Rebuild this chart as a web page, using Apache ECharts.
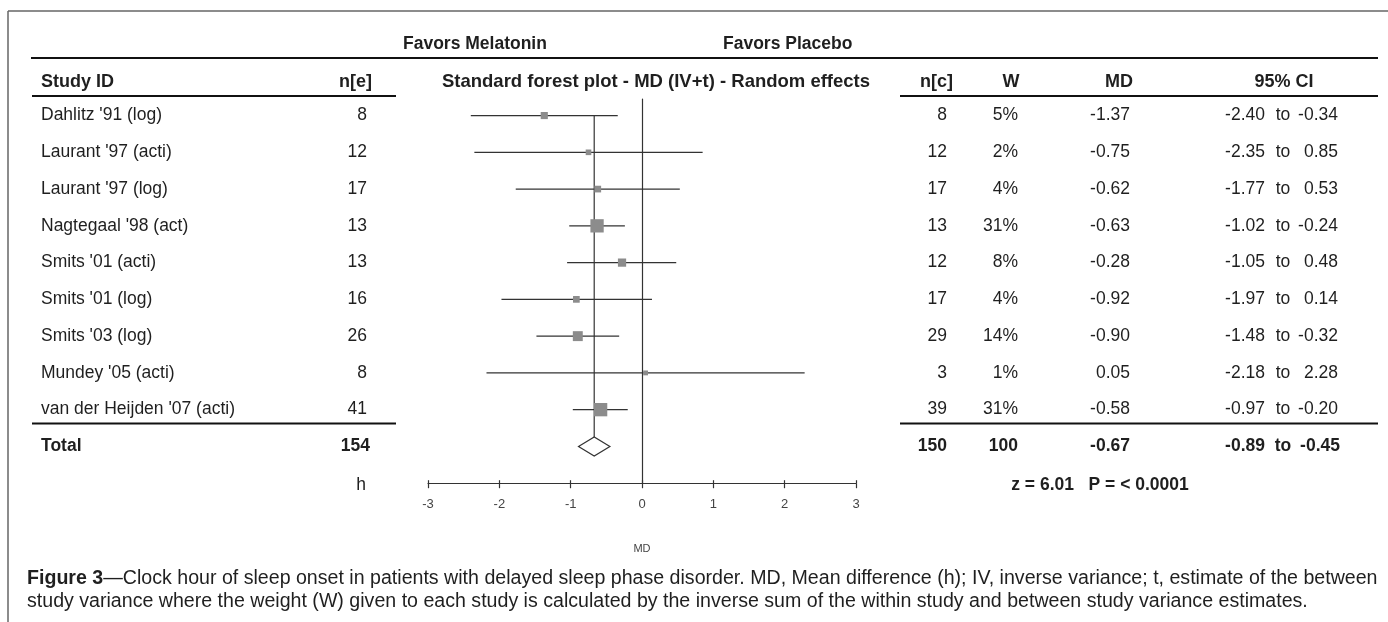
<!DOCTYPE html>
<html>
<head>
<meta charset="utf-8">
<script src="https://cdn.jsdelivr.net/npm/echarts@6/dist/echarts.min.js"></script>
<style>
  html, body { margin: 0; padding: 0; background: #fff; }
  #chart { width: 1388px; height: 622px; }
</style>
</head>
<body>
<div id="chart"></div>
<script>
// Melatonin vs placebo, clock hour of sleep onset — forest plot table.
const studies = [
  "Dahlitz '91 (log)", "Laurant '97 (acti)", "Laurant '97 (log)", "Nagtegaal '98 (act)",
  "Smits '01 (acti)", "Smits '01 (log)", "Smits '03 (log)", "Mundey '05 (acti)",
  "van der Heijden '07 (acti)",
];
const nE = [8, 12, 17, 13, 13, 16, 26, 8, 41];
const nC = [8, 12, 17, 13, 12, 17, 29, 3, 39];
const weight = [5, 2, 4, 31, 8, 4, 14, 1, 31];
const md = [-1.37, -0.75, -0.62, -0.63, -0.28, -0.92, -0.90, 0.05, -0.58];
const ciLow = [-2.40, -2.35, -1.77, -1.02, -1.05, -1.97, -1.48, -2.18, -0.97];
const ciHigh = [-0.34, 0.85, 0.53, -0.24, 0.48, 0.14, -0.32, 2.28, -0.20];

const totalNE = 154;
const totalNC = 150;
const totalW = 100;
const totalMD = -0.67;
const totalLow = -0.89;
const totalHigh = -0.45;
const testText = 'z = 6.01   P = < 0.0001';

const captionLines = [
  '{b|Figure 3}—Clock hour of sleep onset in patients with delayed sleep phase disorder. MD, Mean difference (h); IV, inverse variance; t, estimate of the between',
  'study variance where the weight (W) given to each study is calculated by the inverse sum of the within study and between study variance estimates.',
];

const FONT = '"Liberation Sans", Arial, Helvetica, sans-serif';
const INK = '#1f1f1f';
const LINE = '#333';
const BOX = '#8c8c8c';
const TOTAL_ROW = studies.length;           // row index of the pooled diamond
const fmt = v => v.toFixed(2);
const pct = v => v + '%';

const chart = echarts.init(document.getElementById('chart'), null, { renderer: 'canvas' });

chart.setOption({
  animation: false,
  grid: { left: 428, width: 428, top: 99, height: 384.2 },
  xAxis: [{
    type: 'value', min: -3, max: 3, interval: 1,
    axisLine: { show: true, onZero: false, lineStyle: { color: LINE, width: 1.2 } },
    axisTick: { show: true, length: 5, lineStyle: { color: LINE, width: 1.2 } },
    axisLabel: { color: '#444', fontSize: 13, fontFamily: FONT, margin: 15 },
    splitLine: { show: false },
    name: 'MD', nameLocation: 'middle', nameGap: 60,
    nameTextStyle: { color: '#444', fontSize: 11, fontFamily: FONT },
  }, {
    // second copy only for the half of each tick that pokes above the line
    type: 'value', min: -3, max: 3, interval: 1, position: 'bottom',
    axisLine: { show: false, onZero: false },
    axisTick: { show: true, inside: true, length: 3, lineStyle: { color: LINE, width: 1.2 } },
    axisLabel: { show: false },
    splitLine: { show: false },
  }],
  yAxis: {
    type: 'value', min: -0.45, max: 10, inverse: true,
    axisLine: { show: true, onZero: true, lineStyle: { color: LINE, width: 1.2 } },
    axisTick: { show: false }, axisLabel: { show: false }, splitLine: { show: false },
  },
  series: [
    {
      // pooled estimate reference line, from first study down to the diamond
      type: 'custom', z: 2,
      data: [[totalMD, 0, TOTAL_ROW]],
      renderItem: (params, api) => {
        const a = api.coord([api.value(0), api.value(1)]);
        const b = api.coord([api.value(0), api.value(2)]);
        return { type: 'line', shape: { x1: a[0], y1: a[1], x2: b[0], y2: b[1] - 9.5 },
          style: { stroke: LINE, lineWidth: 1.2 } };
      },
    },
    {
      type: 'custom', z: 3,
      encode: { x: [0, 1, 2], y: 4 },
      data: md.map((m, i) => [ciLow[i], ciHigh[i], m, weight[i], i]),
      renderItem: (params, api) => {
        const row = api.value(4);
        const lo = api.coord([api.value(0), row]);
        const hi = api.coord([api.value(1), row]);
        const c = api.coord([api.value(2), row]);
        const s = 3 + 1.85 * Math.sqrt(api.value(3));
        return { type: 'group', children: [
          { type: 'line', shape: { x1: lo[0], y1: lo[1], x2: hi[0], y2: hi[1] },
            style: { stroke: LINE, lineWidth: 1.2 } },
          { type: 'rect', shape: { x: c[0] - s / 2, y: c[1] - s / 2, width: s, height: s },
            style: { fill: BOX } },
        ] };
      },
    },
    {
      type: 'custom', z: 3,
      data: [[totalLow, totalMD, totalHigh, TOTAL_ROW]],
      renderItem: (params, api) => {
        const row = api.value(3);
        const l = api.coord([api.value(0), row]);
        const m = api.coord([api.value(1), row]);
        const r = api.coord([api.value(2), row]);
        return { type: 'polygon',
          shape: { points: [[l[0], l[1]], [m[0], m[1] - 9.5], [r[0], r[1]], [m[0], m[1] + 9.5]] },
          style: { fill: '#fff', stroke: LINE, lineWidth: 1.2 } };
      },
    },
  ],
});

// ---- table text, rows placed through the y scale ----
const rowY = i => chart.convertToPixel({ yAxisIndex: 0 }, i);

function txt(x, y, text, o = {}) {
  return {
    type: 'text', x, y, silent: true,
    style: {
      text, fill: o.color || INK, fontFamily: FONT,
      fontSize: o.size || 17.5, fontWeight: o.bold ? 'bold' : 'normal',
      align: o.align || 'left', verticalAlign: 'middle', rich: o.rich,
    },
  };
}
function hline(x1, x2, y, w = 2, color = '#111') {
  return { type: 'line', silent: true, shape: { x1, y1: y, x2, y2: y }, style: { stroke: color, lineWidth: w } };
}

const g = [];
// frame and rules
g.push(hline(8, 1388, 11, 1.5, '#666'));
g.push({ type: 'line', silent: true, shape: { x1: 8, y1: 11, x2: 8, y2: 622 }, style: { stroke: '#666', lineWidth: 1.5 } });
g.push(hline(31, 1378, 58));
g.push(hline(32, 396, 96), hline(900, 1378, 96));
g.push(hline(32, 396, 423.5), hline(900, 1378, 423.5));

// headers
g.push(txt(403, 44, 'Favors Melatonin', { bold: true }));
g.push(txt(723, 44, 'Favors Placebo', { bold: true }));
g.push(txt(41, 82, 'Study ID', { bold: true, size: 18 }));
g.push(txt(372, 82, 'n[e]', { bold: true, size: 18, align: 'right' }));
g.push(txt(656, 82, 'Standard forest plot - MD (IV+t) - Random effects', { bold: true, size: 18.5, align: 'center' }));
g.push(txt(953, 82, 'n[c]', { bold: true, size: 18, align: 'right' }));
g.push(txt(1011, 82, 'W', { bold: true, size: 18, align: 'center' }));
g.push(txt(1119, 82, 'MD', { bold: true, size: 18, align: 'center' }));
g.push(txt(1284, 82, '95% CI', { bold: true, size: 18, align: 'center' }));

// study rows
studies.forEach((name, i) => {
  const y = rowY(i);
  g.push(txt(41, y, name));
  g.push(txt(367, y, String(nE[i]), { align: 'right' }));
  g.push(txt(947, y, String(nC[i]), { align: 'right' }));
  g.push(txt(1018, y, pct(weight[i]), { align: 'right' }));
  g.push(txt(1130, y, fmt(md[i]), { align: 'right' }));
  g.push(txt(1265, y, fmt(ciLow[i]), { align: 'right' }));
  g.push(txt(1283, y, 'to', { align: 'center' }));
  g.push(txt(1338, y, fmt(ciHigh[i]), { align: 'right' }));
});

// total row
const ty = rowY(TOTAL_ROW);
g.push(txt(41, ty, 'Total', { bold: true }));
g.push(txt(370, ty, String(totalNE), { bold: true, align: 'right' }));
g.push(txt(947, ty, String(totalNC), { bold: true, align: 'right' }));
g.push(txt(1018, ty, String(totalW), { bold: true, align: 'right' }));
g.push(txt(1130, ty, fmt(totalMD), { bold: true, align: 'right' }));
g.push(txt(1265, ty, fmt(totalLow), { bold: true, align: 'right' }));
g.push(txt(1283, ty, 'to', { bold: true, align: 'center' }));
g.push(txt(1340, ty, fmt(totalHigh), { bold: true, align: 'right' }));

g.push(txt(366, 485, 'h', { align: 'right' }));
g.push(txt(1100, 485, testText, { bold: true, align: 'center' }));

// caption
const CAP = 19.6;
captionLines.forEach((line, i) => {
  g.push(txt(27, 579 + i * 23, line, { size: CAP, rich: { b: { fontWeight: 'bold', fontSize: CAP, fontFamily: FONT, fill: INK } } }));
});

chart.setOption({ graphic: g });
</script>
</body>
</html>
